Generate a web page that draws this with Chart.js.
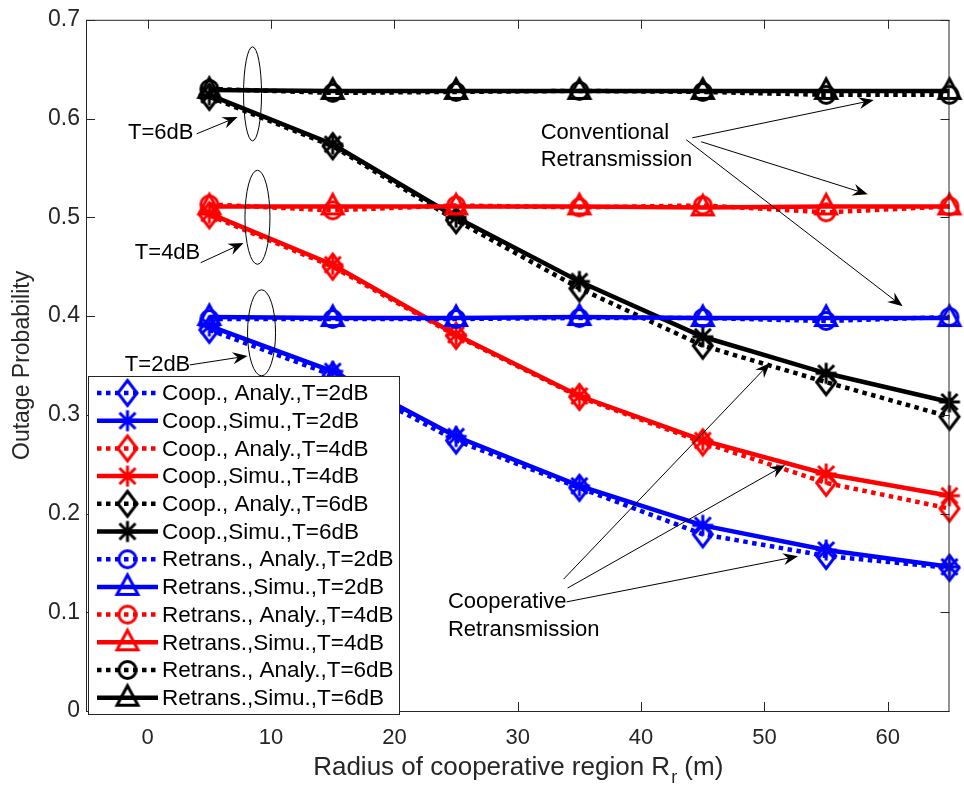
<!DOCTYPE html>
<html>
<head>
<meta charset="utf-8">
<title>Outage Probability vs Radius</title>
<script src="https://cdn.jsdelivr.net/npm/chart.js@4.4.1/dist/chart.umd.min.js"></script>
<style>
  body { margin: 0; background: #fff; }
  canvas { display: block; }
</style>
</head>
<body>
<canvas id="outageChart" width="964" height="788"></canvas>
<script>
// Radius of the cooperative region (m)
const radius = [5, 15, 25, 35, 45, 55, 65];

// Cooperative retransmission, analytical and simulated
const coopAnaly2 = [0.386, 0.340, 0.274, 0.226, 0.179, 0.157, 0.145];
const coopSimu2  = [0.390, 0.344, 0.278, 0.228, 0.188, 0.163, 0.146];
const coopAnaly4 = [0.502, 0.450, 0.380, 0.318, 0.272, 0.231, 0.205];
const coopSimu4  = [0.504, 0.452, 0.381, 0.319, 0.274, 0.240, 0.218];
const coopAnaly6 = [0.622, 0.572, 0.497, 0.428, 0.370, 0.333, 0.298];
const coopSimu6  = [0.624, 0.574, 0.500, 0.435, 0.379, 0.342, 0.313];

// Conventional retransmission, analytical and simulated
const retAnaly2 = [0.397, 0.397, 0.397, 0.398, 0.398, 0.395, 0.399];
const retSimu2  = [0.399, 0.398, 0.398, 0.399, 0.398, 0.398, 0.398];
const retAnaly4 = [0.513, 0.507, 0.512, 0.510, 0.512, 0.505, 0.511];
const retSimu4  = [0.511, 0.511, 0.511, 0.511, 0.510, 0.511, 0.511];
const retAnaly6 = [0.630, 0.626, 0.627, 0.628, 0.627, 0.624, 0.624];
const retSimu6  = [0.629, 0.628, 0.628, 0.628, 0.628, 0.628, 0.628];

const xTicks = [0, 10, 20, 30, 40, 50, 60];
const yTicks = [0, 0.1, 0.2, 0.3, 0.4, 0.5, 0.6, 0.7];
const yTickLabels = ['0', '0.1', '0.2', '0.3', '0.4', '0.5', '0.6', '0.7'];

const FONT = "'Liberation Sans', Arial, Helvetica, sans-serif";
const AXIS_COLOR = '#262626';

// markers drawn once onto small canvases, reused by the plot and the legend
function makeMarker(shape, color) {
  const c = document.createElement('canvas');
  c.width = 36; c.height = 36;
  const g = c.getContext('2d');
  g.translate(18, 18);
  g.strokeStyle = color;
  g.lineWidth = 3;
  g.lineJoin = 'miter';
  g.beginPath();
  if (shape === 'diamond') {
    g.moveTo(0, -12.5); g.lineTo(9.5, 0); g.lineTo(0, 12.5); g.lineTo(-9.5, 0); g.closePath();
  } else if (shape === 'star') {
    const d = 10.5, e = 8;
    g.moveTo(0, -d); g.lineTo(0, d);
    g.moveTo(-d, 0); g.lineTo(d, 0);
    g.moveTo(-e, -e); g.lineTo(e, e);
    g.moveTo(-e, e); g.lineTo(e, -e);
  } else if (shape === 'circle') {
    g.arc(0, 0, 8.5, 0, Math.PI * 2);
  } else if (shape === 'triangle') {
    g.moveTo(0, -12); g.lineTo(10.5, 7.5); g.lineTo(-10.5, 7.5); g.closePath();
  }
  g.stroke();
  return c;
}

const series = [
  { label: 'Coop., Analy.,T=2dB',    data: coopAnaly2, color: '#0000ff', dotted: true,  shape: 'diamond' },
  { label: 'Coop.,Simu.,T=2dB',      data: coopSimu2,  color: '#0000ff', dotted: false, shape: 'star' },
  { label: 'Coop., Analy.,T=4dB',    data: coopAnaly4, color: '#ff0000', dotted: true,  shape: 'diamond' },
  { label: 'Coop.,Simu.,T=4dB',      data: coopSimu4,  color: '#ff0000', dotted: false, shape: 'star' },
  { label: 'Coop., Analy.,T=6dB',    data: coopAnaly6, color: '#000000', dotted: true,  shape: 'diamond' },
  { label: 'Coop.,Simu.,T=6dB',      data: coopSimu6,  color: '#000000', dotted: false, shape: 'star' },
  { label: 'Retrans., Analy.,T=2dB', data: retAnaly2,  color: '#0000ff', dotted: true,  shape: 'circle' },
  { label: 'Retrans.,Simu.,T=2dB',   data: retSimu2,   color: '#0000ff', dotted: false, shape: 'triangle' },
  { label: 'Retrans., Analy.,T=4dB', data: retAnaly4,  color: '#ff0000', dotted: true,  shape: 'circle' },
  { label: 'Retrans.,Simu.,T=4dB',   data: retSimu4,   color: '#ff0000', dotted: false, shape: 'triangle' },
  { label: 'Retrans., Analy.,T=6dB', data: retAnaly6,  color: '#000000', dotted: true,  shape: 'circle' },
  { label: 'Retrans.,Simu.,T=6dB',   data: retSimu6,   color: '#000000', dotted: false, shape: 'triangle' }
];

const datasets = series.map((s, i) => {
  const marker = makeMarker(s.shape, s.color);
  return {
    label: s.label,
    data: radius.map((r, k) => ({ x: r, y: s.data[k] })),
    borderColor: s.color,
    backgroundColor: s.color,
    borderWidth: 4.5,
    borderDash: s.dotted ? [4.5, 4.5] : [],
    borderCapStyle: 'butt',
    tension: 0,
    pointStyle: marker,
    pointRadius: 10,
    clip: false,
    order: series.length - i   // later series painted on top
  };
});

// text annotations, in data units
const notes = [
  { text: 'T=6dB', x: -1.6, y: 0.5855 },
  { text: 'T=4dB', x: -1.04, y: 0.464 },
  { text: 'T=2dB', x: -1.85, y: 0.3505 },
  { text: 'Conventional', x: 31.86, y: 0.5855 },
  { text: 'Retransmission', x: 31.86, y: 0.5584 },
  { text: 'Cooperative', x: 24.34, y: 0.1105 },
  { text: 'Retransmission', x: 24.34, y: 0.0824 }
];

// arrows: tail (x0,y0) -> head (x1,y1), in data units
const arrows = [
  { x0: 3.97, y0: 0.5845, x1: 7.29, y1: 0.6016 },
  { x0: 4.30, y0: 0.4540, x1: 7.77, y1: 0.4740 },
  { x0: 3.41, y0: 0.3505, x1: 8.10, y1: 0.3595 },
  { x0: 44.15, y0: 0.5805, x1: 58.86, y1: 0.6187 },
  { x0: 44.87, y0: 0.5765, x1: 58.37, y1: 0.5233 },
  { x0: 43.66, y0: 0.5785, x1: 61.20, y1: 0.4098 },
  { x0: 33.72, y0: 0.1336, x1: 50.45, y1: 0.3525 },
  { x0: 34.04, y0: 0.1245, x1: 51.67, y1: 0.2491 },
  { x0: 33.96, y0: 0.1105, x1: 52.72, y1: 0.1567 }
];

// ellipses grouping the curves of each threshold (radii in px)
const ellipses = [
  { x: 8.50, y: 0.625, rx: 9, ry: 47 },
  { x: 8.90, y: 0.500, rx: 12.5, ry: 47 },
  { x: 9.23, y: 0.383, rx: 14, ry: 43 }
];

function drawArrow(ctx, x0, y0, x1, y1) {
  const ang = Math.atan2(y1 - y0, x1 - x0);
  const len = 15, half = 6, notch = 10;
  ctx.beginPath();
  ctx.moveTo(x0, y0);
  ctx.lineTo(x1 - Math.cos(ang) * notch, y1 - Math.sin(ang) * notch);
  ctx.stroke();
  ctx.save();
  ctx.translate(x1, y1);
  ctx.rotate(ang);
  ctx.beginPath();
  ctx.moveTo(0, 0);
  ctx.lineTo(-len, -half);
  ctx.lineTo(-notch, 0);
  ctx.lineTo(-len, half);
  ctx.closePath();
  ctx.fill();
  ctx.restore();
}

const decor = {
  id: 'decor',
  afterDatasetsDraw(chart) {
    const { ctx, chartArea: a, scales: { x, y } } = chart;
    ctx.save();
    ctx.strokeStyle = AXIS_COLOR;
    ctx.lineWidth = 1;
    ctx.setLineDash([]);
    ctx.strokeRect(a.left + 0.5, a.top + 0.5, a.right - a.left - 1, a.bottom - a.top);
    ctx.beginPath();
    x.ticks.forEach(t => {
      const px = Math.round(x.getPixelForValue(t.value)) + 0.5;
      ctx.moveTo(px, a.bottom); ctx.lineTo(px, a.bottom - 9);
      ctx.moveTo(px, a.top); ctx.lineTo(px, a.top + 9);
    });
    y.ticks.forEach(t => {
      const py = Math.round(y.getPixelForValue(t.value)) + 0.5;
      ctx.moveTo(a.left, py); ctx.lineTo(a.left + 9, py);
      ctx.moveTo(a.right, py); ctx.lineTo(a.right - 9, py);
    });
    ctx.stroke();
    ctx.restore();
  },
  afterDraw(chart) {
    const { ctx, chartArea: a, scales: { x, y } } = chart;
    ctx.save();

    // ellipses and arrows
    ctx.strokeStyle = '#000';
    ctx.fillStyle = '#000';
    ctx.lineWidth = 1;
    ctx.setLineDash([]);
    ellipses.forEach(e => {
      ctx.beginPath();
      ctx.ellipse(x.getPixelForValue(e.x), y.getPixelForValue(e.y), e.rx, e.ry, 0, 0, Math.PI * 2);
      ctx.stroke();
    });
    arrows.forEach(r => drawArrow(ctx,
      x.getPixelForValue(r.x0), y.getPixelForValue(r.y0),
      x.getPixelForValue(r.x1), y.getPixelForValue(r.y1)));

    ctx.font = '22px ' + FONT;
    ctx.textAlign = 'left';
    ctx.textBaseline = 'middle';
    notes.forEach(n => ctx.fillText(n.text, x.getPixelForValue(n.x), y.getPixelForValue(n.y)));

    // legend box
    const lx = 88, ly = 376, lw = 311, lh = 338;
    ctx.fillStyle = '#fff';
    ctx.fillRect(lx, ly, lw, lh);
    ctx.strokeStyle = AXIS_COLOR;
    ctx.strokeRect(lx + 0.5, ly + 0.5, lw, lh);
    ctx.font = '22.5px ' + FONT;
    chart.data.datasets.forEach((ds, i) => {
      const cy = ly + 17 + i * 27.7;
      ctx.strokeStyle = ds.borderColor;
      ctx.lineWidth = ds.borderWidth;
      ctx.lineCap = 'butt';
      ctx.setLineDash(ds.borderDash);
      ctx.beginPath();
      ctx.moveTo(97, cy); ctx.lineTo(158, cy);
      ctx.stroke();
      const m = ds.pointStyle;
      ctx.drawImage(m, 127.5 - m.width / 2, cy - m.height / 2);
      ctx.fillStyle = '#000';
      ctx.fillText(ds.label, 162, cy + 1);
    });

    // axis titles
    ctx.fillStyle = AXIS_COLOR;
    ctx.setLineDash([]);
    const main = 'Radius of cooperative region R', sub = 'r', tail = ' (m)';
    ctx.font = '26px ' + FONT;
    const w1 = ctx.measureText(main).width, w3 = ctx.measureText(tail).width;
    ctx.font = '18px ' + FONT;
    const w2 = ctx.measureText(sub).width;
    let tx = (a.left + a.right) / 2 - (w1 + w2 + w3) / 2;
    const ty = 768;
    ctx.textAlign = 'left';
    ctx.font = '26px ' + FONT;
    ctx.fillText(main, tx, ty);
    ctx.font = '18px ' + FONT;
    ctx.fillText(sub, tx + w1 + 1, ty + 10);
    ctx.font = '26px ' + FONT;
    ctx.fillText(tail, tx + w1 + w2 + 1, ty);

    ctx.translate(23, (a.top + a.bottom) / 2);
    ctx.rotate(-Math.PI / 2);
    ctx.textAlign = 'center';
    ctx.font = '23px ' + FONT;
    ctx.fillText('Outage Probability', 0, 0);
    ctx.restore();
  }
};

Chart.defaults.font.family = FONT;

new Chart(document.getElementById('outageChart'), {
  type: 'line',
  data: { datasets },
  options: {
    responsive: false,
    animation: false,
    layout: { padding: { top: 14, right: 12, left: 0, bottom: 0 } },
    plugins: { legend: { display: false }, tooltip: { enabled: false } },
    scales: {
      x: {
        type: 'linear',
        min: -5,
        max: 65,
        grid: { display: false, drawTicks: false },
        border: { display: false },
        afterBuildTicks: s => { s.ticks = xTicks.map(v => ({ value: v })); },
        afterFit: s => { s.height = 77; },
        ticks: { color: AXIS_COLOR, font: { size: 22 }, padding: 14, maxRotation: 0, autoSkip: false }
      },
      y: {
        type: 'linear',
        min: 0,
        max: 0.7,
        grid: { display: false, drawTicks: false },
        border: { display: false },
        afterBuildTicks: s => { s.ticks = yTicks.map(v => ({ value: v })); },
        afterFit: s => { s.width = 86; },
        ticks: {
          color: AXIS_COLOR,
          font: { size: 23 },
          padding: 6,
          autoSkip: false,
          callback: (v, i) => yTickLabels[i]
        }
      }
    }
  },
  plugins: [decor]
});
</script>
</body>
</html>
